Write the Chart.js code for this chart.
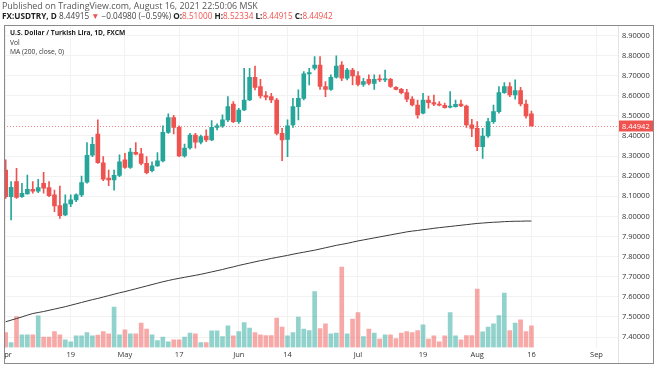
<!DOCTYPE html>
<html><head><meta charset="utf-8">
<script src="https://cdn.jsdelivr.net/npm/chart.js@4.4.0/dist/chart.umd.min.js"></script>
<style>
html,body{margin:0;padding:0;background:#fff;}
#wrap{position:relative;width:654px;height:366px;overflow:hidden;font-family:'Open Sans',sans-serif;}
canvas{position:absolute;left:0;top:0;}
.t{position:absolute;white-space:nowrap;font-size:8px;line-height:10px;color:#333;}
.r{color:#ef5350;}
.lg{font-size:6.7px;}
</style></head><body>
<div id="wrap">
<canvas id="c" width="654" height="366"></canvas>
<div class="t" style="left:2px;top:1px;color:#555;font-size:8.9px">Published on TradingView.com, August 16, 2021 22:50:06 MSK</div>
<div class="t" style="left:2px;top:11px;color:#444;font-size:8.2px"><b style="color:#222">FX:USDTRY, D</b> 8.44915 <span class="r">▼</span> −0.04980 (−0.59%) <b style="color:#222">O:</b><span class="r">8.51000</span> <b style="color:#222">H:</b><span class="r">8.52334</span> <b style="color:#222">L:</b><span class="r">8.44915</span> <b style="color:#222">C:</b><span class="r">8.44942</span></div>
<div class="t lg" style="left:10px;top:28px;font-weight:bold;color:#222">U.S. Dollar / Turkish Lira, 1D, FXCM</div>
<div class="t lg" style="left:10px;top:37.5px">Vol</div>
<div class="t lg" style="left:10px;top:47px">MA (200, close, 0)</div>
</div>
<script>
// Daily candles, Apr 1 – Aug 16 2021 (index = trading day)
const open  = [8.231,8.098,8.173,8.098,8.112,8.135,8.125,8.165,8.143,8.107,8.054,8.007,8.062,8.082,8.107,8.170,8.304,8.410,8.267,8.190,
               8.181,8.204,8.281,8.244,8.319,8.311,8.264,8.228,8.251,8.276,8.418,8.491,8.443,8.301,8.340,8.405,8.369,8.400,8.380,8.443,
               8.450,8.480,8.559,8.471,8.529,8.579,8.692,8.646,8.601,8.596,8.579,8.413,8.383,8.455,8.546,8.587,8.709,8.737,8.753,8.646,
               8.632,8.692,8.753,8.687,8.728,8.699,8.657,8.682,8.662,8.682,8.679,8.682,8.642,8.632,8.616,8.583,8.554,8.513,8.579,8.566,
               8.559,8.553,8.543,8.546,8.559,8.549,8.455,8.438,8.347,8.400,8.471,8.521,8.616,8.646,8.604,8.626,8.559,8.51000];
const high  = [8.281,8.173,8.239,8.165,8.206,8.173,8.185,8.219,8.173,8.131,8.151,8.107,8.107,8.112,8.201,8.367,8.393,8.480,8.297,8.231,
               8.231,8.306,8.314,8.339,8.367,8.339,8.297,8.272,8.317,8.450,8.510,8.503,8.450,8.360,8.413,8.413,8.405,8.430,8.476,8.460,
               8.505,8.596,8.571,8.538,8.737,8.737,8.748,8.682,8.621,8.612,8.587,8.438,8.480,8.587,8.629,8.720,8.737,8.795,8.795,8.670,
               8.704,8.798,8.770,8.737,8.737,8.720,8.687,8.704,8.704,8.704,8.728,8.687,8.646,8.637,8.632,8.596,8.579,8.612,8.599,8.604,
               8.571,8.563,8.621,8.579,8.579,8.554,8.483,8.471,8.438,8.488,8.554,8.646,8.665,8.665,8.679,8.642,8.579,8.52334];
const low   = [8.090,7.982,8.090,8.095,8.110,8.115,8.118,8.115,8.098,8.024,7.990,8.004,8.049,8.073,8.098,8.165,8.297,8.264,8.178,8.153,
               8.131,8.198,8.239,8.239,8.306,8.256,8.211,8.221,8.248,8.271,8.413,8.410,8.297,8.294,8.334,8.339,8.360,8.372,8.377,8.430,
               8.443,8.471,8.466,8.463,8.526,8.576,8.629,8.588,8.579,8.566,8.405,8.277,8.297,8.443,8.480,8.579,8.654,8.728,8.632,8.596,
               8.626,8.687,8.675,8.679,8.654,8.649,8.646,8.654,8.632,8.670,8.670,8.641,8.629,8.609,8.571,8.549,8.488,8.510,8.538,8.551,
               8.549,8.538,8.539,8.543,8.546,8.443,8.397,8.327,8.289,8.393,8.463,8.513,8.612,8.596,8.583,8.549,8.488,8.44915];
const close = [8.098,8.145,8.095,8.115,8.135,8.125,8.143,8.140,8.103,8.052,8.004,8.062,8.082,8.107,8.168,8.304,8.359,8.267,8.185,8.181,
               8.204,8.271,8.244,8.320,8.310,8.264,8.218,8.251,8.276,8.418,8.491,8.443,8.301,8.340,8.405,8.369,8.397,8.380,8.443,8.450,
               8.480,8.546,8.471,8.529,8.579,8.692,8.642,8.599,8.593,8.579,8.413,8.380,8.450,8.546,8.587,8.709,8.715,8.753,8.646,8.632,
               8.692,8.748,8.687,8.728,8.699,8.657,8.670,8.662,8.682,8.679,8.682,8.646,8.632,8.616,8.583,8.554,8.505,8.579,8.566,8.558,
               8.553,8.541,8.549,8.558,8.549,8.455,8.438,8.347,8.400,8.471,8.521,8.616,8.646,8.604,8.626,8.559,8.4992,8.44942];
const volume = [15,5,31,12.7,12.7,12.7,31.7,10.3,10.3,16,12.7,7.7,5.7,11.7,11.7,15,11.7,12.3,16,13.7,
                40.3,12.7,17.7,13.7,13.7,24.3,18.3,12.7,7,10.3,5.7,7.7,7.7,10.3,14.3,13.7,5,5,16.7,16.7,
                11,21.7,11.7,16,25,19.3,15,12.7,12,12,29.3,20.3,11.7,15,30.3,18.3,17,56,19,23.7,
                13.7,14.3,80.3,13.7,28.3,35,11,18.3,14.3,8.3,12.7,12.7,9,14.3,16,15,17,22.7,8.3,11.7,
                5.7,11.7,35,11.7,7.7,12,12,58.3,15.7,20.3,23.7,32,54.3,17,24.3,27.7,16,21.7];
const ma200 = [7.476,7.484,7.492,7.500,7.509,7.517,7.522,7.527,7.533,7.539,7.545,7.551,7.558,7.565,7.572,7.579,7.586,7.592,7.599,7.606,
               7.613,7.620,7.626,7.633,7.640,7.647,7.654,7.661,7.668,7.675,7.681,7.687,7.692,7.697,7.702,7.707,7.712,7.718,7.724,7.730,
               7.736,7.743,7.749,7.756,7.762,7.768,7.774,7.780,7.785,7.791,7.796,7.801,7.806,7.812,7.817,7.822,7.827,7.832,7.838,7.844,
               7.850,7.856,7.861,7.866,7.872,7.878,7.883,7.888,7.893,7.898,7.903,7.908,7.913,7.918,7.923,7.927,7.930,7.934,7.937,7.941,
               7.944,7.947,7.950,7.953,7.956,7.959,7.962,7.965,7.967,7.969,7.971,7.972,7.974,7.975,7.976,7.976,7.977,7.977];
const tickLabels = ['Apr','19','May','17','Jun','14','Jul','19','Aug','16','Sep'];
const tickBars   = [0,12,22,32,43,52,65,77,87,97,109];
const priceTicks = [7.4,7.5,7.6,7.7,7.8,7.9,8.0,8.1,8.2,8.3,8.4,8.5,8.6,8.7,8.8,8.9];

const UP='#26a69a', DN='#ef5350';
const idx = close.map((_,i)=>i);
const isUp = idx.map(i=>close[i]>=open[i]);
const candleCol = idx.map(i=>isUp[i]?UP:DN);
const volCol = idx.map(i=>isUp[i]?'rgba(38,166,154,0.5)':'rgba(239,83,80,0.5)');
const FONT = "'Open Sans', sans-serif";
const last = close.length-1;

const overlay = {
  id:'overlay',
  beforeDatasetsDraw(chart){
    const {ctx, chartArea:a, scales:{y}} = chart;
    const yy = Math.round(y.getPixelForValue(close[last]))+0.5;
    ctx.save();
    ctx.strokeStyle='rgba(239,83,80,0.7)'; ctx.lineWidth=1; ctx.setLineDash([1,2]);
    ctx.beginPath(); ctx.moveTo(a.left,yy); ctx.lineTo(a.right,yy); ctx.stroke();
    ctx.restore();
  },
  afterDraw(chart){
    const {ctx, chartArea:a, scales:{y}} = chart;
    const yy = y.getPixelForValue(close[last]);
    ctx.save();
    ctx.fillStyle=DN;
    ctx.fillRect(a.right+1, Math.round(yy)-5.5, 34, 11);
    ctx.fillStyle='#fff'; ctx.font='7.5px '+FONT; ctx.textBaseline='middle'; ctx.textAlign='left';
    ctx.fillText(close[last].toFixed(5), a.right+4, Math.round(yy)+0.5);
    ctx.fillStyle='#fff'; ctx.fillRect(0, a.bottom, 4.5, 366-a.bottom);
    ctx.strokeStyle='#e3e3e3'; ctx.lineWidth=1;
    ctx.beginPath(); ctx.moveTo(a.right+0.5, 25.5); ctx.lineTo(a.right+0.5, 363.5); ctx.stroke();
    ctx.strokeStyle='#8a8a8a';
    ctx.strokeRect(4.5, 25.5, 649, 338);
    ctx.restore();
  }
};

new Chart(document.getElementById('c'), {
  type:'bar',
  data:{
    datasets:[
      {label:'body', data:idx.map(i=>({x:i,y:[open[i],close[i]]})), backgroundColor:candleCol, barThickness:4, minBarLength:1, yAxisID:'y', order:0},
      {label:'wick', data:idx.map(i=>({x:i,y:[low[i],high[i]]})), backgroundColor:candleCol, barThickness:1, yAxisID:'y', order:1},
      {type:'line', label:'MA', data:idx.map(i=>({x:i,y:ma200[i]})), borderColor:'#3a3a3a', borderWidth:1, pointRadius:0, tension:0, yAxisID:'y', order:2},
      {label:'Vol', data:idx.map(i=>({x:i,y:volume[i]})), backgroundColor:volCol, barThickness:4, yAxisID:'yv', order:3}
    ]
  },
  options:{
    responsive:false, animation:false, devicePixelRatio:1,
    layout:{padding:{left:4, top:27, right:0, bottom:0}},
    datasets:{bar:{grouped:false, borderWidth:0}},
    plugins:{legend:{display:false}, tooltip:{enabled:false}},
    scales:{
      x:{type:'linear', min:-0.31, max:112.97, offset:false,
         grid:{offset:false, color:'#f2f2f2', drawTicks:false},
         border:{display:false},
         afterBuildTicks:s=>{s.ticks=tickBars.map(v=>({value:v}));},
         afterFit:s=>{s.height=18.5; s.paddingLeft=0; s.paddingRight=0;},
         ticks:{autoSkip:false, maxRotation:0, padding:3, color:'#333', font:{size:7.5, family:FONT},
                callback:v=>{const k=tickBars.indexOf(v); return k>=0?tickLabels[k]:'';}}},
      y:{type:'linear', position:'right', min:7.348, max:8.942,
         grid:{color:'#f2f2f2', drawTicks:false},
         border:{display:false},
         afterBuildTicks:s=>{s.ticks=priceTicks.map(v=>({value:v}));},
         afterFit:s=>{s.width=36; s.paddingTop=0; s.paddingBottom=0;},
         ticks:{padding:4, color:'#333', font:{size:7.5, family:FONT}, callback:v=>Number(v).toFixed(5)}},
      yv:{type:'linear', display:false, min:0, max:320.5}
    }
  },
  plugins:[overlay]
});
</script>
</body></html>
